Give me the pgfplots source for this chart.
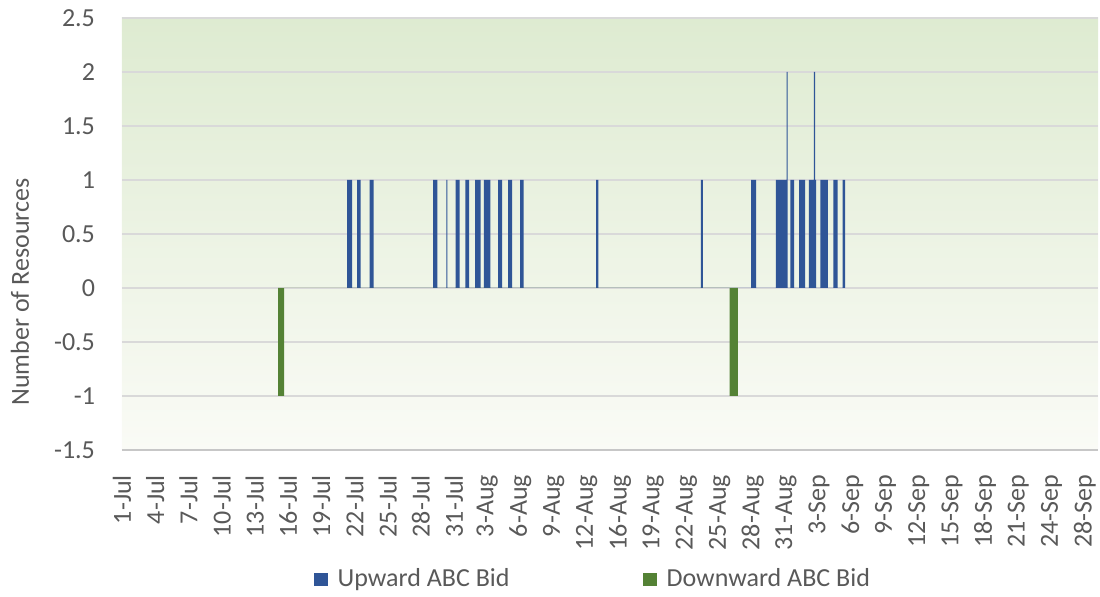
\documentclass[border=0pt]{standalone}
\usepackage{fontspec}
\setmainfont{Carlito}
\usepackage{pgfplots}
\pgfplotsset{compat=1.18}
\definecolor{upblue}{RGB}{47,85,151}
\definecolor{downgreen}{RGB}{84,130,53}
\definecolor{txt}{RGB}{89,89,89}
\definecolor{gridc}{RGB}{217,217,217}
\definecolor{bgtop}{RGB}{222,235,209}
\definecolor{bgmid}{RGB}{236,243,228}
\definecolor{bgbot}{RGB}{250,251,246}
\begin{document}
\fontsize{13}{15}\selectfont
\begin{tikzpicture}
\begin{axis}[name=ax, scale only axis, width=488pt, height=216pt,
  xmin=0, xmax=29.4, ymin=-1.5, ymax=2.5,
  ytick={-1.5,-1,-0.5,0,0.5,1,1.5,2,2.5},
  xtick={0,1,...,29},
  xticklabels={1-Jul,4-Jul,7-Jul,10-Jul,13-Jul,16-Jul,19-Jul,22-Jul,25-Jul,28-Jul,31-Jul,3-Aug,6-Aug,9-Aug,12-Aug,16-Aug,19-Aug,22-Aug,25-Aug,28-Aug,31-Aug,3-Sep,6-Sep,9-Sep,12-Sep,15-Sep,18-Sep,21-Sep,24-Sep,28-Sep},
  /pgf/number format/assume math mode=true,
  tick label style={font=\fontsize{13}{15}\selectfont, text=txt},
  x tick label style={rotate=90, anchor=east},
  xticklabel shift=8pt,
  y tick label style={xshift=-9pt},
  major tick length=0pt,
  ymajorgrids, grid style={gridc, line width=0.6pt},
  axis x line*=bottom, axis y line*=left,
  x axis line style={draw=gridc!80!gray, line width=0.7pt},
  y axis line style={draw=none},
  axis background/.style={top color=bgtop, middle color=bgmid, bottom color=bgbot},
  ylabel={Number of Resources},
  ylabel style={at={(axis description cs:-0.1045,0.366)}, anchor=center, text=txt, font=\fontsize{13}{15}\selectfont},
  legend style={at={(0.196,-0.30)}, anchor=west, draw=none, fill=none, inner sep=0pt,
    font=\fontsize{13}{15}\selectfont, text=txt,
    /tikz/every even column/.append style={column sep=64.5pt},
    /tikz/every odd column/.append style={column sep=3pt}},
  legend columns=2,
]
\addplot[ybar interval, fill=upblue, draw=none,
  legend image code/.code={\fill[upblue] (0pt,-3.4pt) rectangle (7pt,3.4pt);}]
coordinates {
(6.78,1) (6.93,0) (7.08,1) (7.19,0) (7.46,1) (7.58,0)
(9.37,1) (9.50,0) (9.77,1) (9.80,0) (10.05,1) (10.17,0) (10.34,1) (10.46,0)
(10.64,1) (10.80,0) (10.90,1) (11.10,0) (11.33,1) (11.45,0) (11.63,1) (11.75,0)
(11.99,1) (12.10,0) (14.28,1) (14.35,0) (17.44,1) (17.50,0) (18.95,1) (19.10,0)
(19.70,1) (20.02,2) (20.05,0) (20.13,1) (20.25,0) (20.40,1) (20.58,0)
(20.69,1) (20.84,2) (20.88,1) (20.91,0) (21.04,1) (21.26,0) (21.43,1) (21.56,0)
(21.71,1) (21.78,0)
};
\addlegendentry{Upward ABC Bid}
\addplot[ybar interval, fill=downgreen, draw=none,
  legend image code/.code={\fill[downgreen] (0pt,-3.4pt) rectangle (7pt,3.4pt);}]
coordinates {
(4.70,-1) (4.88,0) (18.30,-1) (18.55,0)
};
\addlegendentry{Downward ABC Bid}
\end{axis}
\pgfresetboundingbox
\path ([shift={(-61pt,-73.5pt)}]ax.south west) rectangle ([shift={(1pt,9pt)}]ax.north east);
\end{tikzpicture}
\end{document}
